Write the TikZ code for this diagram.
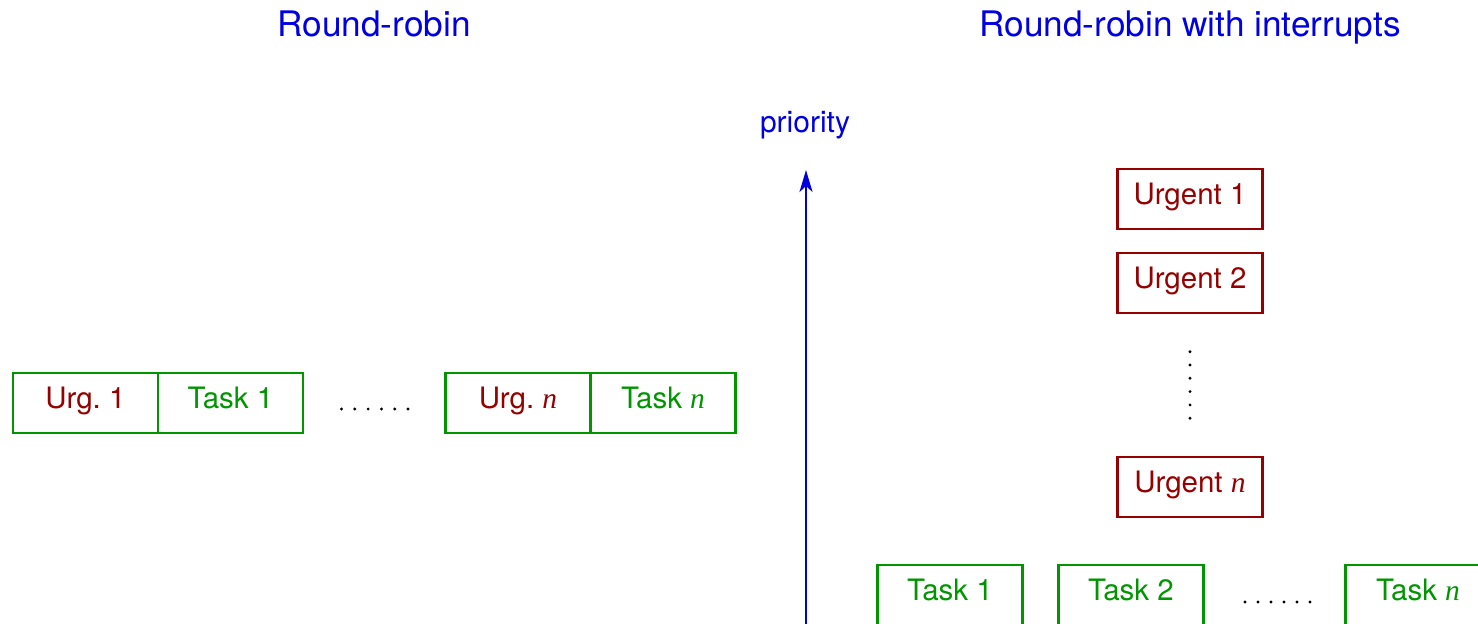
\documentclass[tikz,border=0pt]{standalone}
\usepackage{fontspec}
\setmainfont{TeX Gyre Heros}
\newfontfamily\timesfont{Liberation Serif}
\usetikzlibrary{arrows.meta,positioning}
\definecolor{TaskGreen}{RGB}{0,150,0}
\definecolor{UrgRed}{RGB}{150,0,0}
\definecolor{HeadBlue}{RGB}{0,0,225}
\newcommand{\nvar}{{\timesfont\itshape n}}
\tikzset{
  basebox/.style={rectangle,line width=1.25pt,inner sep=0pt,outer sep=0pt,
    minimum width=72.5pt,minimum height=30pt,text height=0.72em,text depth=0.21em,
    font=\fontsize{14.75}{17}\selectfont},
  urgcell/.style={basebox,draw=TaskGreen,text=UrgRed},
  taskcell/.style={basebox,draw=TaskGreen,text=TaskGreen},
  urgbox/.style={basebox,draw=UrgRed,text=UrgRed},
  taskbox/.style={basebox,draw=TaskGreen,text=TaskGreen},
  headtext/.style={text=HeadBlue,inner sep=0pt,anchor=base,font=\fontsize{17.6}{20}\selectfont},
  axistext/.style={text=HeadBlue,inner sep=0pt,anchor=base,font=\fontsize{15}{18}\selectfont},
  axisarrow/.style={-{Stealth[length=11pt,width=6.5pt,inset=3pt]},line width=1.25pt,color=HeadBlue},
  dot/.style={fill=black}
}
\begin{document}
\begin{tikzpicture}[x=0.5pt,y=-0.5pt,node distance=12pt and 0pt]
  \useasboundingbox (0,0) rectangle (1478,624);
  \node[headtext] (rrtitle) at (374,37) {Round-robin};
  \node[headtext] (irtitle) at (1190,37) {Round-robin with interrupts};

  % plain round-robin: urgent part and task part share one slot
  \node[urgcell] (u1) at (85.5,403) {Urg.\ 1};
  \node[taskcell,right=of u1] (t1) {Task 1};
  \node[urgcell] (un) at (518,403) {Urg.\ \nvar};
  \node[taskcell,right=of un] (tn) {Task \nvar};
  \foreach \i in {0,...,5} \fill[dot] (341.5+13.3*\i,409) circle (0.8pt);

  % priority axis
  \node[axistext] (prio) at (805,133) {priority};
  \coordinate (axbase) at (806,640);
  \coordinate (axtip) at (806,170);
  \draw[axisarrow] (axbase) -- (axtip);

  % interrupt handlers stacked by priority
  \node[urgbox] (ur1) at (1190,199) {Urgent 1};
  \node[urgbox,below=of ur1] (ur2) {Urgent 2};
  \node[urgbox] (urn) at (1190,487) {Urgent \nvar};
  \foreach \i in {0,...,5} \fill[dot] (1190,351.7+13.3*\i) circle (0.8pt);

  % background tasks
  \node[taskbox] (rt1) at (950,595) {Task 1};
  \node[taskbox,right=18pt of rt1] (rt2) {Task 2};
  \node[taskbox] (rtn) at (1418,595) {Task \nvar};
  \foreach \i in {0,...,5} \fill[dot] (1245+13*\i,602) circle (0.8pt);
\end{tikzpicture}
\end{document}
